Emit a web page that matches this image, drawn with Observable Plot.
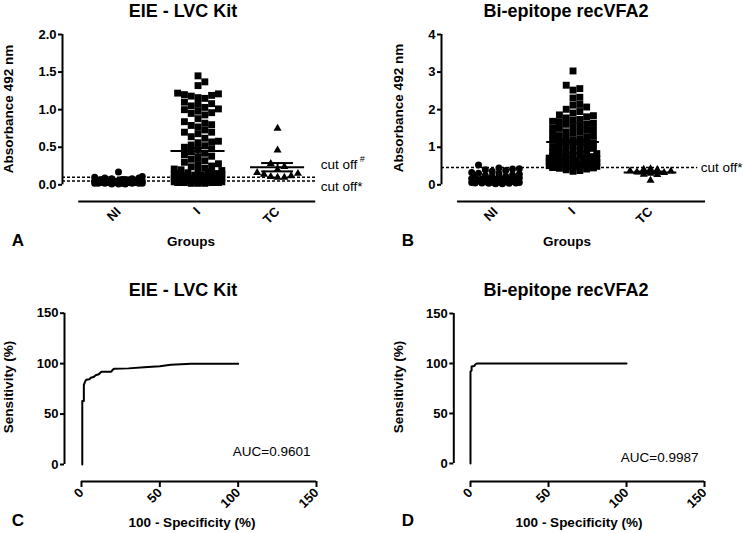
<!DOCTYPE html>
<html><head><meta charset="utf-8">
<script src="https://cdn.jsdelivr.net/npm/d3@7"></script>
<script src="https://cdn.jsdelivr.net/npm/@observablehq/plot@0.6"></script>
<style>
body{margin:0;background:#fff;}
#root{position:relative;width:745px;height:533px;background:#fff;font-family:"Liberation Sans",Arial,sans-serif;color:#000;overflow:hidden}
.panel{position:absolute}
.lbl{position:absolute;white-space:nowrap;line-height:1;transform:translate(-50%,-50%)}
.rot{transform:translate(-50%,-50%) rotate(-90deg)}
</style></head><body><div id="root"></div>
<script>
// ---------- data ----------
const groups = ["NI", "I", "TC"];

// Panel A: EIE - LVC Kit, absorbance 492 nm
const eieNI = [0.17, 0.11, 0.10, 0.09, 0.09, 0.08, 0.08, 0.07, 0.07, 0.07, 0.06, 0.06, 0.06, 0.05, 0.05, 0.05, 0.05, 0.04, 0.04, 0.04,
  0.04, 0.04, 0.03, 0.03, 0.03, 0.03, 0.03, 0.03, 0.02, 0.02, 0.02, 0.02, 0.02, 0.02, 0.02, 0.01, 0.01, 0.01, 0.04, 0.05];
const eieI = [1.45, 1.37, 1.32, 1.22, 1.21, 1.20, 1.19, 1.18, 1.16, 1.15, 1.10, 1.08, 1.07, 1.05, 1.03, 1.01, 1.00, 0.98, 0.96, 0.95,
  0.93, 0.88, 0.84, 0.82, 0.80, 0.79, 0.77, 0.73, 0.70, 0.70, 0.68, 0.64, 0.62, 0.58, 0.57, 0.56, 0.53, 0.52, 0.50, 0.48, 0.47,
  0.44, 0.42, 0.40, 0.38, 0.36, 0.34, 0.32, 0.30, 0.28, 0.27, 0.25, 0.24, 0.22, 0.21, 0.20, 0.19, 0.18, 0.17, 0.16, 0.16,
  0.15, 0.15, 0.14, 0.14, 0.13, 0.13, 0.12, 0.12, 0.11, 0.11, 0.10, 0.10, 0.10, 0.09, 0.09, 0.09, 0.08, 0.08, 0.08, 0.07,
  0.07, 0.07, 0.06, 0.06, 0.06, 0.05, 0.05, 0.05, 0.05, 0.04, 0.04, 0.04, 0.04, 0.03, 0.03, 0.03, 0.03, 0.02, 0.02, 0.02];
const eieTC = [0.75, 0.46, 0.28, 0.24, 0.20, 0.16, 0.15, 0.14, 0.12, 0.11, 0.10, 0.10];
const eieCutValues = [0.10, 0.05];
const eieCutLabels = ["cut off", "cut off*"];
const eieCutSup = ["#", ""];
const eieTicks = [0, 0.5, 1.0, 1.5, 2.0];

// Panel B: Bi-epitope recVFA2
const recNI = [0.53, 0.45, 0.43, 0.42, 0.40, 0.38, 0.36, 0.33, 0.31, 0.30, 0.28, 0.26, 0.25, 0.23, 0.22, 0.20, 0.19, 0.18, 0.16, 0.15,
  0.14, 0.13, 0.12, 0.11, 0.10, 0.10, 0.09, 0.08, 0.08, 0.07, 0.07, 0.06, 0.06, 0.05, 0.05, 0.05, 0.04, 0.04, 0.03, 0.03];
const recI = [3.03, 2.65, 2.56, 2.52, 2.33, 2.31, 2.14, 2.12, 2.07, 2.01, 1.95, 1.91, 1.86, 1.84, 1.81, 1.78, 1.74, 1.72, 1.69, 1.68,
  1.64, 1.62, 1.61, 1.57, 1.55, 1.51, 1.50, 1.47, 1.45, 1.41, 1.40, 1.37, 1.35, 1.31, 1.30, 1.27, 1.25, 1.22, 1.19, 1.18,
  1.14, 1.12, 1.11, 1.08, 1.05, 1.03, 1.00, 0.98, 0.97, 0.94, 0.92, 0.90, 0.88, 0.86, 0.85, 0.83, 0.82, 0.80, 0.79, 0.78,
  0.76, 0.75, 0.74, 0.72, 0.71, 0.70, 0.69, 0.68, 0.67, 0.66, 0.65, 0.64, 0.63, 0.62, 0.61, 0.60, 0.59, 0.58, 0.57, 0.56,
  0.55, 0.54, 0.53, 0.52, 0.51, 0.50, 0.49, 0.48, 0.47, 0.46, 0.45, 0.44, 0.42, 0.40, 0.38, 0.36];
const recTC = [0.42, 0.41, 0.40, 0.37, 0.36, 0.34, 0.32, 0.30, 0.28, 0.27, 0.12];
const recCutValues = [0.46];
const recCutLabels = ["cut off*"];
const recCutSup = [""];
const recTicks = [0, 1, 2, 3, 4];

// Panels C, D: ROC curves
const rocTicks = [0, 50, 100, 150];
const rocEieFpr  = [0.5, 0.5, 1.5, 1.5, 2.5, 3, 5, 6, 8, 9, 11, 12, 13, 19, 20, 21, 30, 40, 50, 57, 70, 100];
const rocEieSens = [0, 63, 63, 79, 83, 84, 84.5, 86, 87, 88.5, 89.5, 91, 92, 92, 94, 95, 95.3, 96.3, 97.5, 99, 100, 100];
const rocRecFpr  = [0, 0, 0.7, 0.7, 2.5, 3, 4, 100];
const rocRecSens = [0, 92, 93, 97, 97.5, 99, 100, 100];
const aucEie = "0.9601";
const aucRec = "0.9987";

// text labels
const titles = ["EIE - LVC Kit", "Bi-epitope recVFA2"];
const yLabelScatter = "Absorbance 492 nm";
const yLabelRoc = "Sensitivity (%)";
const xLabelScatter = "Groups";
const xLabelRoc = "100 - Specificity (%)";
const panelLetters = ["A", "B", "C", "D"];

// ---------- helpers ----------
const FONT = '"Liberation Sans", Arial, sans-serif';
const root = document.getElementById("root");

function swarm(values, gi, d, kx, ky, maxHalf) {
  const vals = values.slice().sort(d3.ascending);
  const placed = [];
  const cands = [0];
  for (let j = 1; j <= maxHalf; j++) cands.push(j, -j);
  return vals.map(v => {
    const py = v * ky;
    let chosen = null, fb = 0, fbScore = -1;
    for (const j of cands) {
      const cx = j * d / 2;
      let m = Infinity;
      for (const p of placed) {
        const dist = Math.max(Math.abs(p.x - cx), Math.abs(p.y - py));
        if (dist < m) m = dist;
      }
      if (m >= d * 0.98) { chosen = cx; break; }
      if (m > fbScore) { fbScore = m; fb = cx; }
    }
    if (chosen === null) chosen = fb;
    placed.push({x: chosen, y: py});
    return {value: v, x: gi + chosen / kx};
  });
}
function stats(values, i) {
  return {i, mean: d3.mean(values), sem: d3.deviation(values) / Math.sqrt(values.length)};
}
function place(svg, left, top, w, h) {
  const div = document.createElement("div");
  div.className = "panel";
  div.style.left = left + "px"; div.style.top = top + "px";
  div.style.width = w + "px"; div.style.height = h + "px";
  div.appendChild(svg);
  root.appendChild(div);
}
const axisText = {fontSize: 13, fontWeight: "bold", fontFamily: FONT};

function scatterPanel(c) {
  const kx = (c.W - c.mL - c.mR) / (c.xDom[1] - c.xDom[0]);
  const ky = (c.H - c.mT - c.mB) / (c.yDom[1] - c.yDom[0]);
  const sets = c.data.map((vals, i) => swarm(vals, i, 6.8, kx, ky, 7));
  const st = c.data.map((vals, i) => stats(vals, i));
  const symbols = ["circle", "square", "triangle"];
  const radii = [3.5, 3.9, 3.0];
  const marks = [
    Plot.ruleY(c.cutValues, {x1: () => c.xDom[0], x2: () => c.cutX2, stroke: "black", strokeWidth: 1.5, strokeDasharray: "3,2"}),
    ...sets.map((s, i) => Plot.dot(s, {x: "x", y: "value", symbol: symbols[i], r: radii[i], fill: "black", stroke: "none"})),
    Plot.ruleY(st, {y: "mean", x1: d => d.i - 0.34, x2: d => d.i + 0.34, stroke: "black", strokeWidth: 2}),
    Plot.ruleY(st, {y: d => d.mean + d.sem, x1: d => d.i - 0.2, x2: d => d.i + 0.2, stroke: "black", strokeWidth: 2}),
    Plot.ruleY(st, {y: d => d.mean - d.sem, x1: d => d.i - 0.2, x2: d => d.i + 0.2, stroke: "black", strokeWidth: 2}),
    Plot.ruleX(st, {x: "i", y1: d => d.mean - d.sem, y2: d => d.mean + d.sem, stroke: "black", strokeWidth: 2}),
    Plot.ruleX([c.xDom[0]], {y1: () => 0, y2: () => c.yTop, stroke: "black", strokeWidth: 2}),
    Plot.ruleY([c.yDom[0]], {x1: () => c.axX[0], x2: () => c.axX[1], stroke: "black", strokeWidth: 2}),
    Plot.axisY({ticks: c.yTicks, tickFormat: c.yFmt, tickSize: 4, tickPadding: 2, strokeWidth: 2, label: null, ...axisText}),
    Plot.axisX({ticks: [0, 1, 2], tickFormat: i => groups[i], tickRotate: -45, tickSize: 0, tickPadding: 8, label: null, ...axisText})
  ];
  c.cutValues.forEach((v, k) => {
    marks.push(Plot.text([v], {x: () => c.cutX2, y: d => d, text: () => c.cutLabels[k], dx: c.cutDx, dy: c.cutDy[k],
      textAnchor: "start", fontSize: 13.5, fontFamily: FONT, fill: "black"}));
    if (c.cutSup[k]) marks.push(Plot.text([v], {x: () => c.cutX2, y: d => d, text: () => c.cutSup[k], dx: c.cutDx + 39, dy: c.cutDy[k] - 5,
      textAnchor: "start", fontSize: 9, fontFamily: FONT, fill: "black"}));
  });
  return Plot.plot({
    width: c.W, height: c.H, marginLeft: c.mL, marginRight: c.mR, marginTop: c.mT, marginBottom: c.mB,
    x: {domain: c.xDom}, y: {domain: c.yDom},
    style: {fontFamily: FONT, color: "black", background: "white", overflow: "visible"},
    marks
  });
}

function rocPanel(c) {
  const pts = c.fpr.map((x, i) => ({x, y: c.sens[i]}));
  return Plot.plot({
    width: c.W, height: c.H, marginLeft: c.mL, marginRight: c.mR, marginTop: c.mT, marginBottom: c.mB,
    x: {domain: c.xDom}, y: {domain: c.yDom},
    style: {fontFamily: FONT, color: "black", background: "white", overflow: "visible"},
    marks: [
      Plot.ruleX([c.xDom[0]], {y1: () => 0, y2: () => 150, stroke: "black", strokeWidth: 2}),
      Plot.ruleY([c.yDom[0]], {x1: () => 0, x2: () => 150, stroke: "black", strokeWidth: 2}),
      Plot.axisY({ticks: rocTicks, tickSize: 4, tickPadding: 2, strokeWidth: 2, label: null, ...axisText}),
      Plot.axisX({ticks: rocTicks, tickRotate: -45, tickSize: 6, tickPadding: 3, strokeWidth: 2, label: null, ...axisText}),
      Plot.line(pts, {x: "x", y: "y", stroke: "black", strokeWidth: 2}),
      Plot.text([c.auc], {text: d => "AUC=" + d, frameAnchor: "bottom-right", dx: c.aucDx, dy: c.aucDy,
        textAnchor: "end", fontSize: 13.5, fontFamily: FONT, fill: "black"})
    ]
  });
}

// ---------- panels ----------
place(scatterPanel({
  W: 372, H: 260, mL: 62, mR: 52, mT: 34, mB: 59,
  xDom: [-0.704, 2.54], yDom: [-0.222, 2], yTop: 2, yTicks: eieTicks, yFmt: d3.format(".1f"),
  data: [eieNI, eieI, eieTC], axX: [-0.5, 2.48], cutX2: 2.48,
  cutValues: eieCutValues, cutLabels: eieCutLabels, cutSup: eieCutSup, cutDx: 5, cutDy: [-13, 6]
}), 0, 0, 372, 260);

place(scatterPanel({
  W: 373, H: 260, mL: 69, mR: 35, mT: 34, mB: 59,
  xDom: [-0.697, 2.774], yDom: [-0.444, 4], yTop: 4, yTicks: recTicks, yFmt: d3.format("d"),
  data: [recNI, recI, recTC], axX: [-0.49, 2.71], cutX2: 2.61,
  cutValues: recCutValues, cutLabels: recCutLabels, cutSup: recCutSup, cutDx: 3, cutDy: [0]
}), 372, 0, 373, 260);

place(rocPanel({
  W: 372, H: 273, mL: 64, mR: 51.3, mT: 52.7, mB: 52,
  xDom: [-10.85, 153], yDom: [-16.85, 150], fpr: rocEieFpr, sens: rocEieSens,
  auc: aucEie, aucDx: -10.7, aucDy: -26
}), 0, 260, 372, 273);

place(rocPanel({
  W: 373, H: 273, mL: 81.3, mR: 36.3, mT: 53, mB: 52,
  xDom: [-10.7, 153], yDom: [-18, 150], fpr: rocRecFpr, sens: rocRecSens,
  auc: aucRec, aucDx: -10.7, aucDy: -19.5
}), 372, 260, 373, 273);

// ---------- HTML text ----------
const labels = [
  {t: titles[0], x: 183, y: 11, s: 18, b: true},
  {t: titles[1], x: 566, y: 11, s: 18, b: true},
  {t: titles[0], x: 183, y: 290, s: 18, b: true},
  {t: titles[1], x: 566, y: 290, s: 18, b: true},
  {t: yLabelScatter, x: 9, y: 109, s: 13.5, b: true, r: true},
  {t: yLabelScatter, x: 399, y: 108, s: 13.5, b: true, r: true},
  {t: yLabelRoc, x: 9, y: 387, s: 13.5, b: true, r: true},
  {t: yLabelRoc, x: 399, y: 387, s: 13.5, b: true, r: true},
  {t: xLabelScatter, x: 191, y: 242, s: 13.5, b: true},
  {t: xLabelScatter, x: 567, y: 242, s: 13.5, b: true},
  {t: xLabelRoc, x: 192, y: 523, s: 13.5, b: true},
  {t: xLabelRoc, x: 579, y: 523, s: 13.5, b: true},
  {t: panelLetters[0], x: 18, y: 240, s: 17, b: true},
  {t: panelLetters[1], x: 408, y: 240, s: 17, b: true},
  {t: panelLetters[2], x: 18, y: 520, s: 17, b: true},
  {t: panelLetters[3], x: 408, y: 520, s: 17, b: true}
];
labels.forEach(l => {
  const el = document.createElement("div");
  el.className = "lbl" + (l.r ? " rot" : "");
  el.textContent = l.t;
  el.style.left = l.x + "px"; el.style.top = l.y + "px";
  el.style.fontSize = l.s + "px";
  el.style.fontWeight = l.b ? "bold" : "normal";
  root.appendChild(el);
});
</script></body></html>
